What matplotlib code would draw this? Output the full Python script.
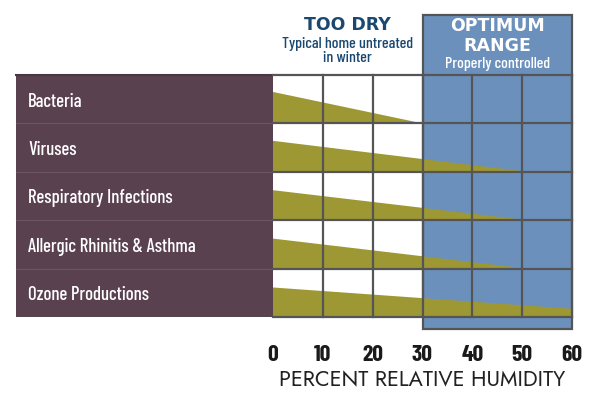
import matplotlib
matplotlib.use('Agg')
import matplotlib.pyplot as plt
from matplotlib.patches import Rectangle, Polygon

# data
risks = ['Bacteria', 'Viruses', 'Respiratory Infections',
         'Allergic Rhinitis & Asthma', 'Ozone Productions']
wedge_end = [30, 51, 51, 51, 60]          # % RH where the wedge stops
wedge_start_h = [0.65, 0.64, 0.62, 0.62, 0.61]   # wedge height at 0 % (fraction of row)
wedge_end_h = [0, 0, 0, 0, 0.17]          # height left at wedge end
ticks = [0, 10, 20, 30, 40, 50, 60]
optimum = (30, 60)

purple = '#5a4150'
olive = '#9d9834'
blue = '#6b90bc'
line = '#555555'
navy = '#1a4870'

narrow = ['Barlow Condensed', 'DejaVu Sans']
geo = ['Jost', 'DejaVu Sans']

fig = plt.figure(figsize=(5.91, 3.96), dpi=100)
W, H = 591, 396
ax = fig.add_axes([273 / W, (H - 317) / H, 299 / W, 242 / H])
ax.set_xlim(0, 60)
ax.set_ylim(len(risks), 0)
px_x = 60 / 299   # data units per pixel
px_y = len(risks) / 242

# optimum box (extends above and below the grid)
top = -60 * px_y
bot = len(risks) + 12 * px_y
ax.add_patch(Rectangle((optimum[0], top), optimum[1] - optimum[0], bot - top,
                       facecolor=blue, edgecolor=line, lw=1.6, clip_on=False, zorder=1))

# label panel
left = -257 * px_x
ax.add_patch(Rectangle((left, 0), -left, len(risks), facecolor=purple,
                       edgecolor='none', clip_on=False, zorder=1))
ax.plot([left, 0], [0, 0], color='#4a3642', lw=1.5, clip_on=False, zorder=2)

for i, name in enumerate(risks):
    yb = i + 1
    pts = [(0, yb), (0, yb - wedge_start_h[i]),
           (wedge_end[i], yb - wedge_end_h[i]), (wedge_end[i], yb)]
    ax.add_patch(Polygon(pts, closed=True, facecolor=olive, edgecolor='none', zorder=2))
    ax.text(left + 12 * px_x, i + 0.55, name, color='white', fontsize=13.5,
            family=narrow, fontweight='medium', va='center', ha='left', clip_on=False)
    if i > 0:
        ax.plot([left, 0], [i, i], color='#6d5462', lw=0.8, clip_on=False, zorder=2)

# grid
for t in ticks[1:]:
    ax.plot([t, t], [0, len(risks)], color=line, lw=1.6, zorder=3, clip_on=False)
for r in range(len(risks) + 1):
    ax.plot([0, 60], [r, r], color=line, lw=1.6, zorder=3, clip_on=False)

ax.set_xticks(ticks)
ax.set_xticklabels([str(t) for t in ticks], fontsize=17, fontweight='bold',
                   color='#1a1a1a', family=narrow)
ax.tick_params(axis='x', length=0, pad=20)
ax.set_yticks([])
for s in ax.spines.values():
    s.set_visible(False)
ax.set_facecolor('white')
ax.set_xlabel('PERCENT RELATIVE HUMIDITY', fontsize=15.5, color='#222222',
              family=geo, labelpad=3)

# headers
cx_dry = 15
ax.text(cx_dry, -50 * px_y, 'TOO DRY', ha='center', va='center',
        fontsize=12.5, fontweight='heavy', color=navy, clip_on=False)
ax.text(cx_dry, -24 * px_y, 'Typical home untreated\nin winter', ha='center',
        va='center', fontsize=11.5, color=navy, linespacing=0.95,
        family=narrow, fontweight='medium', clip_on=False)
cx_opt = 45
ax.text(cx_opt, -39 * px_y, 'OPTIMUM\nRANGE', ha='center', va='center',
        fontsize=12.5, fontweight='heavy', color='white', linespacing=1.2,
        clip_on=False, zorder=4)
ax.text(cx_opt, -11 * px_y, 'Properly controlled', ha='center', va='center',
        fontsize=11.5, color='white', family=narrow, fontweight='medium',
        clip_on=False, zorder=4)

fig.savefig('out.png', dpi=100)
